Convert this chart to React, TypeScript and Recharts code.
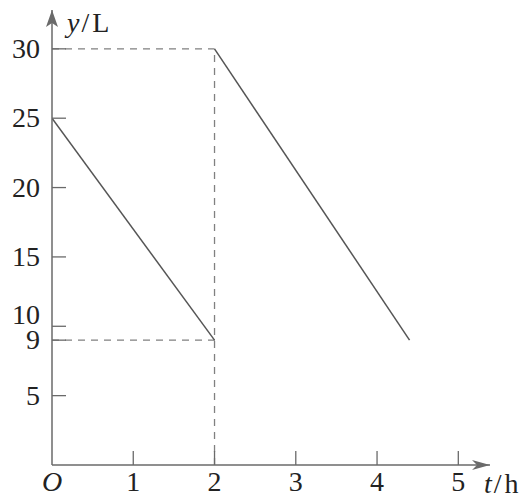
import React from "react";
import { LineChart, Line, XAxis, YAxis, ReferenceLine, ReferenceDot } from "recharts";

const xTicks = [0, 1, 2, 3, 4, 5];
const yTicks = [5, 9, 10, 15, 20, 25, 30];
const firstTrip = [
  { t: 0, y: 25 },
  { t: 2, y: 9 },
];
const secondTrip = [
  { t: 2, y: 30 },
  { t: 4.4, y: 9 },
];
const xMax = 5.39;
const yMax = 32.8;

const FONT = "'Liberation Serif', 'Times New Roman', serif";
const AXIS = "#6a6a6a";
const LINE = "#555";
const DASH = "#808080";
const TEXT = "#222";

const XTick = (props: any) => {
  const { x, y, payload } = props;
  const v = payload.value;
  return (
    <g>
      {v !== 0 && <line x1={x} y1={y} x2={x} y2={y - 14} stroke={AXIS} strokeWidth={1.3} />}
      <text
        x={x}
        y={y + 26}
        textAnchor="middle"
        fontFamily={FONT}
        fontSize={28}
        fontStyle={v === 0 ? "italic" : "normal"}
        fill={TEXT}
      >
        {v === 0 ? "O" : String(v)}
      </text>
    </g>
  );
};

const YTick = (props: any) => {
  const { x, y, payload } = props;
  const v = payload.value;
  const dy = v === 10 ? -2 : 9;
  return (
    <g>
      <line x1={x} y1={y} x2={x + 14} y2={y} stroke={AXIS} strokeWidth={1.3} />
      <text x={x - 12} y={y + dy} textAnchor="end" fontFamily={FONT} fontSize={28} fill={TEXT}>
        {String(v)}
      </text>
    </g>
  );
};

const YTitle = (props: any) => {
  const vb = props.viewBox;
  return (
    <text x={vb.x + vb.width + 15} y={vb.y + 22} fontFamily={FONT} fontSize={28} fill={TEXT}>
      <tspan fontStyle="italic">y</tspan>
      <tspan dx={2}>/</tspan>
      <tspan dx={3}>L</tspan>
    </text>
  );
};

const XTitle = (props: any) => {
  const vb = props.viewBox;
  return (
    <text x={vb.x + vb.width - 6} y={vb.y + 28} fontFamily={FONT} fontSize={28} fill={TEXT}>
      <tspan fontStyle="italic">t</tspan>
      <tspan dx={2}>/</tspan>
      <tspan dx={3}>h</tspan>
    </text>
  );
};

const UpArrow = (props: any) => {
  const { cx, cy } = props;
  return <path d={`M${cx},${cy} L${cx - 6},${cy + 17} L${cx},${cy + 13} L${cx + 6},${cy + 17} Z`} fill={AXIS} />;
};

const RightArrow = (props: any) => {
  const { cx, cy } = props;
  return <path d={`M${cx},${cy} L${cx - 18},${cy - 5} L${cx - 13},${cy} L${cx - 18},${cy + 5} Z`} fill={AXIS} />;
};

export default function App() {
  return (
    <div style={{ position: "absolute", left: 0, top: 0, background: "#fff" }}>
      <LineChart width={530} height={496} margin={{ top: 10, right: 40, bottom: 0, left: 0 }}>
        <XAxis
          type="number"
          dataKey="t"
          domain={[0, xMax]}
          ticks={xTicks}
          allowDataOverflow
          height={31}
          tickSize={0}
          tickMargin={0}
          tickLine={false}
          axisLine={{ stroke: AXIS, strokeWidth: 1.5 }}
          tick={<XTick />}
          interval={0}
          label={(p: any) => <XTitle {...p} />}
        />
        <YAxis
          type="number"
          dataKey="y"
          domain={[0, yMax]}
          ticks={yTicks}
          allowDataOverflow
          width={52}
          tickSize={0}
          tickMargin={0}
          tickLine={false}
          axisLine={{ stroke: AXIS, strokeWidth: 1.5 }}
          tick={<YTick />}
          interval={0}
          label={(p: any) => <YTitle {...p} />}
        />
        <ReferenceLine segment={[{ x: 0, y: 30 }, { x: 2, y: 30 }]} stroke={DASH} strokeDasharray="7 6" strokeWidth={1.3} />
        <ReferenceLine segment={[{ x: 2, y: 0 }, { x: 2, y: 29.6 }]} stroke={DASH} strokeDasharray="7 6" strokeWidth={1.3} />
        <ReferenceLine segment={[{ x: 0, y: 9 }, { x: 2.08, y: 9 }]} stroke={DASH} strokeDasharray="7 6" strokeWidth={1.3} />
        <Line data={firstTrip} dataKey="y" stroke={LINE} strokeWidth={1.5} dot={false} isAnimationActive={false} />
        <Line data={secondTrip} dataKey="y" stroke={LINE} strokeWidth={1.5} dot={false} isAnimationActive={false} />
        <ReferenceDot x={0} y={yMax} r={0} shape={(p: any) => <UpArrow {...p} />} ifOverflow="visible" />
        <ReferenceDot x={xMax} y={0} r={0} shape={(p: any) => <RightArrow {...p} />} ifOverflow="visible" />
      </LineChart>
    </div>
  );
}
